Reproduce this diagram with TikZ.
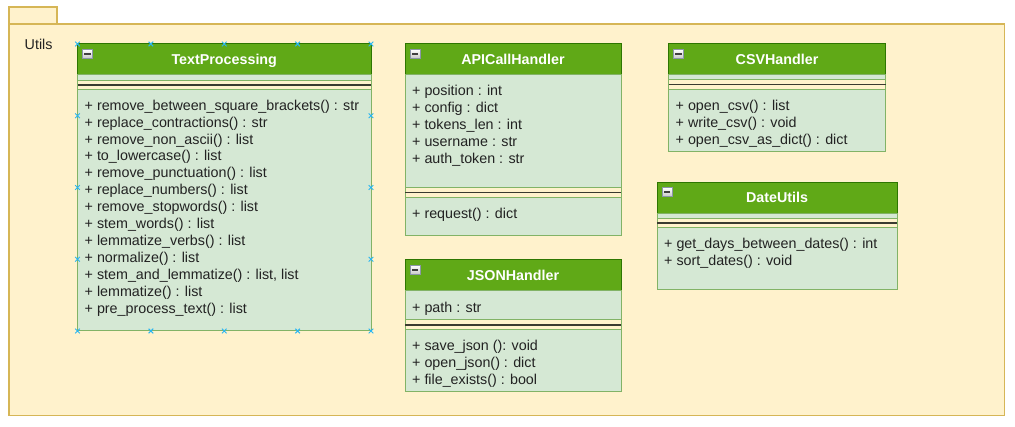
\documentclass[tikz,border=0pt]{standalone}
\usepackage{fontspec}
\setmainfont{Liberation Sans}
\definecolor{pkgfill}{HTML}{FFF2CC}
\definecolor{pkgline}{HTML}{D6B656}
\definecolor{hdrfill}{HTML}{60A917}
\definecolor{hdrline}{HTML}{2D7600}
\definecolor{secfill}{HTML}{D5E8D4}
\definecolor{secline}{HTML}{82B366}
\definecolor{sepcol}{HTML}{3A3A30}
\definecolor{handlec}{HTML}{29B6F2}
\definecolor{txtc}{HTML}{222222}
\definecolor{iconline}{HTML}{8C96A8}
\definecolor{minusc}{HTML}{404040}
\tikzset{
  pkgbox/.style={draw=pkgline,fill=pkgfill,line width=1.6pt},
  hdr/.style={draw=hdrline,fill=hdrfill,line width=1pt,anchor=north west,inner sep=0pt,outer sep=0pt},
  sect/.style={draw=secline,fill=secfill,line width=1pt,anchor=north west,inner sep=0pt,outer sep=0pt},
  ctitle/.style={text=white,font=\fontsize{14.3}{16.9}\selectfont\bfseries,anchor=base,inner sep=0pt},
  members/.style={text=txtc,anchor=base west,inner sep=0pt},
  sepline/.style={draw=sepcol,line width=1.6pt},
  sepside/.style={draw=secline,line width=1pt},
  iconbox/.style={draw=iconline,line width=0.8pt,top color=white,bottom color=gray!45,
     minimum width=10pt,minimum height=9pt,inner sep=0pt,
     path picture={\fill[minusc] ([shift={(-3.3pt,-1pt)}]path picture bounding box.center) rectangle ([shift={(3.3pt,1pt)}]path picture bounding box.center);}},
  handlemark/.style={draw=handlec,line width=1pt}
}
\newcommand{\mlines}[1]{\begin{tabular}[t]{@{}l@{}}#1\end{tabular}}
\begin{document}
\begin{tikzpicture}[x=1pt,y=-1pt,font=\fontsize{14.3}{16.9}\selectfont]
\useasboundingbox (0,0) rectangle (1015,427);
% package
\draw[pkgbox] (9,7) rectangle (57,24);
\draw[pkgbox] (9,24) rectangle (1004.5,415.5);
\node[members] (utils) at (24.5,50) {Utils};

% ---------- TextProcessing ----------
\node[hdr,minimum width=293.5pt,minimum height=31pt] (tpH) at (77.5,44) {};
\node[sect,minimum width=293.5pt,minimum height=5.3pt] (tpA) at (77.5,75) {};
\draw[sepside] (77.5,80.3) -- (77.5,89.3) (371,80.3) -- (371,89.3);
\draw[sepline] (77.5,84.8) -- (371,84.8);
\node[sect,minimum width=293.5pt,minimum height=241.7pt] (tpM) at (77.5,89.3) {};
\node[ctitle] (tpT) at (224.25,64.6) {TextProcessing};
\node[iconbox] (tpI) at (87.5,54) {};
\node[members] (tpMt) at (84.5,110.3) {\mlines{%
+ remove\_between\_square\_brackets() : str\\
+ replace\_contractions() : str\\
+ remove\_non\_ascii() : list\\
+ to\_lowercase() : list\\
+ remove\_punctuation() : list\\
+ replace\_numbers() : list\\
+ remove\_stopwords() : list\\
+ stem\_words() : list\\
+ lemmatize\_verbs() : list\\
+ normalize() : list\\
+ stem\_and\_lemmatize() : list, list\\
+ lemmatize() : list\\
+ pre\_process\_text() : list}};
% selection handles
\foreach \hx in {77.5,150.9,224.25,297.6,371} {
  \foreach \hy in {44,331} {
    \draw[handlemark] (\hx-2.3,\hy-2.3) -- (\hx+2.3,\hy+2.3) (\hx-2.3,\hy+2.3) -- (\hx+2.3,\hy-2.3);
  }
}
\foreach \hx in {77.5,371} {
  \foreach \hy in {115.75,187.5,259.25} {
    \draw[handlemark] (\hx-2.3,\hy-2.3) -- (\hx+2.3,\hy+2.3) (\hx-2.3,\hy+2.3) -- (\hx+2.3,\hy-2.3);
  }
}

% ---------- APICallHandler ----------
\node[hdr,minimum width=216pt,minimum height=31pt] (apiH) at (405,44) {};
\node[sect,minimum width=216pt,minimum height=113pt] (apiA) at (405,75) {};
\draw[sepside] (405,188) -- (405,197.5) (621,188) -- (621,197.5);
\draw[sepline] (405,192.7) -- (621,192.7);
\node[sect,minimum width=216pt,minimum height=38pt] (apiM) at (405,197.5) {};
\node[ctitle] (apiT) at (513,64.6) {APICallHandler};
\node[iconbox] (apiI) at (415,54) {};
\node[members] (apiAt) at (412,95.8) {\mlines{%
+ position : int\\
+ config : dict\\
+ tokens\_len : int\\
+ username : str\\
+ auth\_token : str}};
\node[members] (apiMt) at (412,218.3) {\mlines{+ request() : dict}};

% ---------- CSVHandler ----------
\node[hdr,minimum width=217pt,minimum height=31pt] (csvH) at (668.5,44) {};
\node[sect,minimum width=217pt,minimum height=5pt] (csvA) at (668.5,75) {};
\draw[sepside] (668.5,80) -- (668.5,89.3) (885.5,80) -- (885.5,89.3);
\draw[sepline] (668.5,84.6) -- (885.5,84.6);
\node[sect,minimum width=217pt,minimum height=62.7pt] (csvM) at (668.5,89.3) {};
\node[ctitle] (csvT) at (777,64.6) {CSVHandler};
\node[iconbox] (csvI) at (678.5,54) {};
\node[members] (csvMt) at (675.5,110.3) {\mlines{%
+ open\_csv() : list\\
+ write\_csv() : void\\
+ open\_csv\_as\_dict() : dict}};

% ---------- DateUtils ----------
\node[hdr,minimum width=240pt,minimum height=31pt] (dtH) at (657,182.3) {};
\node[sect,minimum width=240pt,minimum height=5pt] (dtA) at (657,213.3) {};
\draw[sepside] (657,218.3) -- (657,227.7) (897,218.3) -- (897,227.7);
\draw[sepline] (657,222.9) -- (897,222.9);
\node[sect,minimum width=240pt,minimum height=62.3pt] (dtM) at (657,227.7) {};
\node[ctitle] (dtT) at (777,202.9) {DateUtils};
\node[iconbox] (dtI) at (667,192.3) {};
\node[members] (dtMt) at (664,248.7) {\mlines{%
+ get\_days\_between\_dates() : int\\
+ sort\_dates() : void}};

% ---------- JSONHandler ----------
\node[hdr,minimum width=216pt,minimum height=31pt] (jsH) at (405,260) {};
\node[sect,minimum width=216pt,minimum height=28.5pt] (jsA) at (405,291) {};
\draw[sepside] (405,319.5) -- (405,330) (621,319.5) -- (621,330);
\draw[sepline] (405,324.8) -- (621,324.8);
\node[sect,minimum width=216pt,minimum height=61.7pt] (jsM) at (405,330) {};
\node[ctitle] (jsT) at (513,280.6) {JSONHandler};
\node[iconbox] (jsI) at (415,270) {};
\node[members] (jsAt) at (412,312.3) {\mlines{+ path : str}};
\node[members] (jsMt) at (412,351) {\mlines{%
+ save\_json (): void\\
+ open\_json() : dict\\
+ file\_exists() : bool}};
\end{tikzpicture}
\end{document}
